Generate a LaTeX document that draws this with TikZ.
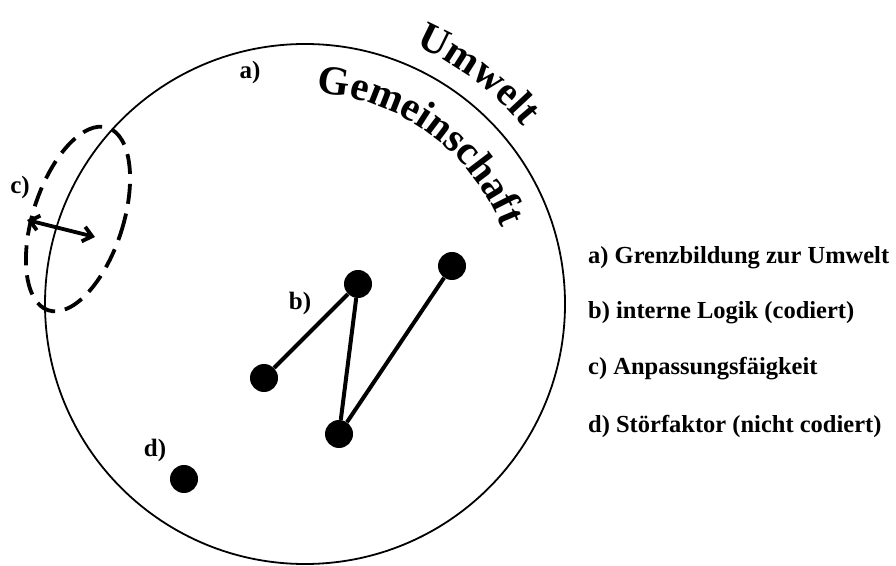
\documentclass[tikz,border=0pt]{standalone}
\usepackage{fontspec}
\setmainfont{Liberation Serif}
\usepackage{tikz}
\usetikzlibrary{positioning}
\usetikzlibrary{decorations.text}
\usetikzlibrary{arrows.meta}
\usetikzlibrary{shapes.geometric}

\newcommand{\arcfont}{\fontsize{41}{48}\selectfont\bfseries}

\begin{document}
\begin{tikzpicture}[x=1pt, y=1pt,
    dot/.style={circle, fill=black, inner sep=0pt, minimum size=28pt},
    lbl/.style={font=\fontsize{25}{30}\selectfont\bfseries, inner sep=0pt},
    legend/.style={font=\fontsize{24.5}{30}\selectfont\bfseries, inner sep=0pt},
    link/.style={line width=4pt}]
    \useasboundingbox (0,0) rectangle (896,565);

    % Gemeinschaft and Umwelt
    \coordinate (m) at (305,261);
    \draw[line width=1.8pt] (m) circle[radius=260];
    \path[decorate, decoration={text along path, text align=center,
        text={|\arcfont|Gemeinschaft}}]
        (m) ++(87:211) arc[start angle=87, end angle=21, radius=211];
    \path[decorate, decoration={text along path, text align=center,
        text={|\arcfont|Umwelt}}]
        (m) ++(70:281) arc[start angle=70, end angle=36, radius=281];

    % adaptation zone
    \node[draw, ellipse, line width=3.8pt, dash pattern=on 20pt off 10pt,
        minimum width=90pt, minimum height=192pt, rotate=-18] (zone) at (78,346) {};
    \coordinate (cl) at (27,345);
    \coordinate (cr) at (95,328);
    \draw[line width=3.8pt, {Straight Barb[length=9pt, width=15pt]}-{Straight Barb[length=9pt, width=15pt]}] (cl) -- (cr);

    % internal logic
    \node[dot] (n1) at (264,187) {};
    \node[dot] (n2) at (358,281) {};
    \node[dot] (n3) at (452,299) {};
    \node[dot] (n4) at (339,131) {};
    \node[dot] (dd) at (184,86) {};
    \draw[link] (n1) -- (n2) -- (n4) -- (n3);

    \node[lbl] (la) at (250,493) {a)};
    \node[lbl] (lbb) at (300,262) {b)};
    \node[lbl] (lc) at (20,378) {c)};
    \node[lbl] (ld) at (155,115) {d)};

    % legend
    \node[legend, anchor=west] (ga) at (588,307) {a) Grenzbildung zur Umwelt};
    \node[legend, below=55pt of ga.west, anchor=west] (gb) {b) interne Logik (codiert)};
    \node[legend, below=56pt of gb.west, anchor=west] (gc) {c) Anpassungsfäigkeit};
    \node[legend, below=57pt of gc.west, anchor=west] (gd) {d) Störfaktor (nicht codiert)};
\end{tikzpicture}
\end{document}
